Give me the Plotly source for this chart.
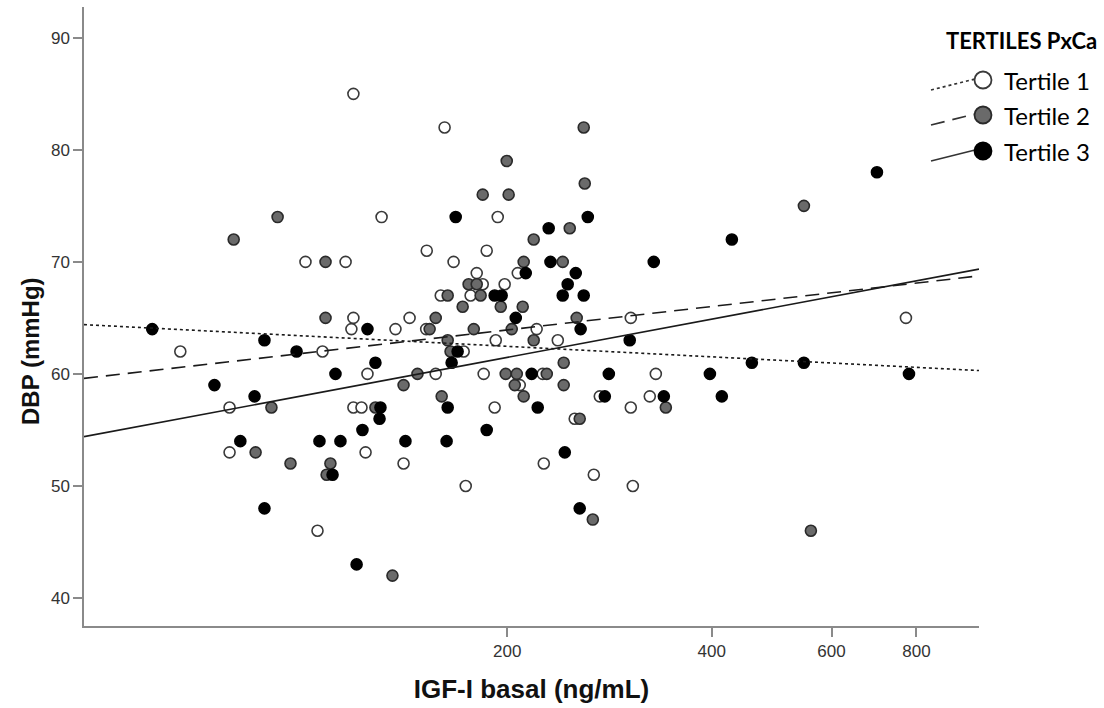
import math
import plotly.graph_objects as go

# IGF-I basal (ng/mL) and DBP (mmHg) by PxCa tertile
t1_igf = [66.1, 78.1, 78.1, 101.0, 105.2, 107.0, 115.7, 118.0, 118.8, 118.8,
          118.8, 122.1, 123.8, 124.6, 130.7, 137.0, 140.8, 143.7, 152.3, 152.0,
          157.0, 159.7, 161.8, 166.8, 172.6, 173.8, 176.7, 180.4, 184.1, 184.7,
          186.6, 191.7, 192.4, 193.7, 198.3, 207.3, 208.7, 221.0, 225.6, 226.4,
          237.4, 251.4, 268.2, 273.7, 304.0, 304.0, 306.1, 324.2, 330.9, 772.0]
t1_dbp = [62, 57, 53, 70, 46, 62, 70, 64, 65, 85,
          57, 57, 53, 60, 74, 64, 52, 65, 71, 64,
          60, 67, 82, 70, 62, 50, 67, 69, 68, 60,
          71, 57, 63, 74, 68, 69, 59, 64, 60, 52,
          63, 56, 51, 58, 65, 57, 50, 58, 60, 65]

t2_igf = [79.2, 85.3, 90.0, 91.9, 96.0, 108.1, 108.1, 108.5, 109.9, 128.0,
          135.6, 140.8, 147.6, 153.8, 157.0, 160.2, 163.5, 163.5, 165.1, 172.0,
          175.5, 178.6, 180.4, 182.8, 184.1, 195.7, 199.0, 199.7, 201.0, 203.1,
          205.2, 206.6, 210.8, 211.5, 211.5, 218.8, 218.8, 228.7, 241.4, 242.2,
          242.2, 247.2, 253.1, 255.7, 259.2, 260.1, 267.3, 342.3, 546.4, 559.5]
t2_dbp = [72, 53, 57, 74, 52, 70, 65, 51, 52, 57,
          42, 59, 60, 64, 65, 58, 67, 63, 62, 66,
          68, 64, 68, 67, 76, 66, 60, 79, 76, 64,
          59, 60, 66, 70, 58, 72, 63, 60, 70, 61,
          59, 73, 65, 56, 82, 77, 47, 57, 75, 46]

t3_igf = [60.1, 74.2, 81.0, 85.0, 87.9, 87.9, 98.0, 105.9, 110.7, 111.8,
          113.7, 120.1, 122.5, 124.6, 128.0, 130.2, 129.8, 141.7, 162.9, 163.5,
          165.7, 168.0, 169.1, 186.6, 191.7, 196.3, 205.9, 213.0, 217.3, 221.8,
          230.2, 231.6, 241.4, 243.1, 245.5, 252.3, 255.7, 256.5, 259.2, 262.8,
          278.4, 282.2, 302.9, 328.6, 340.0, 397.4, 413.8, 428.1, 458.1, 546.4,
          699.8, 780.0]
t3_dbp = [64, 59, 54, 58, 63, 48, 62, 54, 51, 60,
          54, 43, 55, 64, 61, 57, 56, 54, 54, 57,
          61, 74, 62, 55, 67, 67, 65, 69, 60, 57,
          73, 70, 67, 53, 68, 69, 48, 64, 67, 74,
          58, 60, 63, 70, 58, 60, 58, 72, 61, 61,
          78, 60]

# Fitted lines (DBP at the two ends of the IGF-I axis)
fit_igf = [47.7, 988.8]
t1_fit = [64.4, 60.3]
t2_fit = [59.6, 68.75]
t3_fit = [54.4, 69.35]

x_ticks = [200, 400, 600, 800]
y_ticks = [40, 50, 60, 70, 80, 90]
x_title = "IGF-I basal (ng/mL)"
y_title = "DBP (mmHg)"
legend_title = "TERTILES PxCa"
legend_labels = ["Tertile 1", "Tertile 2", "Tertile 3"]

fills = ["#ffffff", "#6a6a6a", "#000000"]
edges = ["#3a3a3a", "#2a2a2a", "#000000"]
dashes = ["3px,3px", "14px,8px", "solid"]

fig = go.Figure()

groups = [(t1_igf, t1_dbp), (t2_igf, t2_dbp), (t3_igf, t3_dbp)]
for (xs, ys), fc, ec, name in zip(groups, fills, edges, legend_labels):
    fig.add_trace(go.Scatter(
        x=xs, y=ys, mode="markers", name=name, showlegend=False,
        marker=dict(size=11, color=fc, line=dict(color=ec, width=1.6)),
    ))

for fit, dash in zip([t1_fit, t2_fit, t3_fit], dashes):
    fig.add_trace(go.Scatter(
        x=fit_igf, y=fit, mode="lines", showlegend=False,
        line=dict(color="#1a1a1a", width=1.6, dash=dash),
    ))

# Plot area in pixels
L, R, T, B = 84, 979, 7, 626
W, H = 1104, 708


def px(xp):
    return (xp - L) / (R - L)


def py(yp):
    return (B - yp) / (B - T)


shapes = []
annotations = []

# Hand-drawn legend: sloped line sample, marker, label
rows_y = [80, 115, 151]
for yc, fc, ec, dash, lab in zip(rows_y, fills, edges, dashes, legend_labels):
    shapes.append(dict(
        type="line", xref="paper", yref="paper",
        x0=px(931), y0=py(yc + 10), x1=px(975), y1=py(yc - 1),
        line=dict(color="#333333", width=1.7, dash=dash), layer="above",
    ))
    shapes.append(dict(
        type="circle", xref="paper", yref="paper",
        xsizemode="pixel", ysizemode="pixel",
        xanchor=px(983), yanchor=py(yc),
        x0=-8.5, x1=8.5, y0=-8.5, y1=8.5,
        fillcolor=fc, line=dict(color=ec, width=1.8), layer="above",
    ))
    annotations.append(dict(
        text=lab, xref="paper", yref="paper", x=px(1002), y=py(yc),
        xanchor="left", yanchor="middle", showarrow=False,
        font=dict(family="Lato, Carlito, sans-serif", size=24, color="#000000"),
    ))

annotations.append(dict(
    text="<b>" + legend_title + "</b>", xref="paper", yref="paper",
    x=px(1021), y=py(40), xanchor="center", yanchor="middle", showarrow=False,
    font=dict(family="Lato, Carlito, sans-serif", size=22, color="#000000"),
))

axis_col = "#8a8a8a"
tick_font = dict(family="'Liberation Sans', Arial, sans-serif", size=17, color="#333333")
title_font = dict(family="'Liberation Sans', Arial, sans-serif", size=26, color="#111111")

# Vertical axis title, set slightly below the plot's centre line
annotations.append(dict(
    text="<b>" + y_title + "</b>", xref="paper", yref="paper",
    x=px(30), y=py(351), xanchor="center", yanchor="middle", textangle=-90,
    showarrow=False,
    font=dict(family="'Liberation Sans', Arial, sans-serif", size=24, color="#111111"),
))

fig.update_layout(
    width=W, height=H,
    margin=dict(l=L, r=W - R, t=T, b=H - B, pad=0),
    paper_bgcolor="white", plot_bgcolor="white",
    shapes=shapes, annotations=annotations,
    xaxis=dict(
        type="log", range=[math.log10(fit_igf[0]), math.log10(fit_igf[1])],
        tickvals=x_ticks, ticktext=[str(v) for v in x_ticks],
        showgrid=False, zeroline=False, showline=True,
        linecolor=axis_col, linewidth=1.5,
        ticks="outside", ticklen=9, tickwidth=1.5, tickcolor=axis_col,
        tickfont=tick_font,
        title=dict(text="<b>" + x_title + "</b>", standoff=20, font=title_font),
    ),
    yaxis=dict(
        range=[37.5, 92.75], tickvals=y_ticks,
        showgrid=False, zeroline=False, showline=True,
        linecolor=axis_col, linewidth=1.5,
        ticks="outside", ticklen=9, tickwidth=1.5, tickcolor=axis_col,
        tickfont=tick_font,
    ),
)

fig.write_html("out.html")
